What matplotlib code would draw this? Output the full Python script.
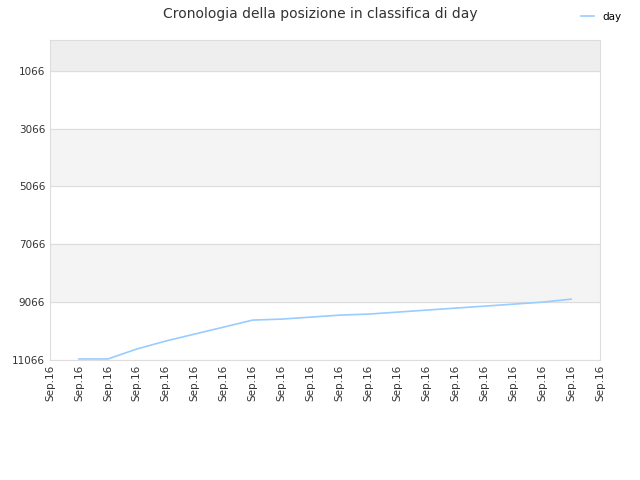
import matplotlib
matplotlib.use("Agg")
import matplotlib.pyplot as plt

x_labels = ["Sep.16"] * 20
x_idx = list(range(1, 19))
ranks = [11030, 11030, 10686, 10410, 10169, 9928, 9686, 9652, 9583, 9514,
         9479, 9410, 9341, 9272, 9204, 9135, 9066, 8962]
y_ticks = [1066, 3066, 5066, 7066, 9066, 11066]

fig = plt.figure(figsize=(6.4, 4.8), dpi=100)
ax = fig.add_axes([50 / 640, 120 / 480, 550 / 640, 320 / 480])

# alternating bands
ax.axhspan(0, 1066, color="#eeeeee", zorder=0)
for i, lo in enumerate(y_ticks[:-1]):
    if i % 2 == 1:
        ax.axhspan(lo, lo + 2000, color="#f4f4f4", zorder=0)
for t in y_ticks:
    ax.axhline(t, color="#dddddd", lw=0.8, zorder=1)

ax.plot(x_idx, ranks, color="#99ccff", lw=1.2, label="day", zorder=2)

ax.set_xlim(0, 19)
ax.set_ylim(11066, 0)
ax.set_yticks(y_ticks)
ax.set_xticks(range(20))
ax.set_xticklabels(x_labels, rotation=90)
ax.tick_params(labelsize=7.5, colors="#333333", length=0)
for s in ax.spines.values():
    s.set_color("#dddddd")

fig.suptitle("Cronologia della posizione in classifica di day", x=0.5, y=0.985,
             fontsize=10, color="#333333")
fig.legend(loc="upper right", bbox_to_anchor=(0.985, 0.995), frameon=False,
           fontsize=7.5, handlelength=1.2)

fig.savefig("out.png")
